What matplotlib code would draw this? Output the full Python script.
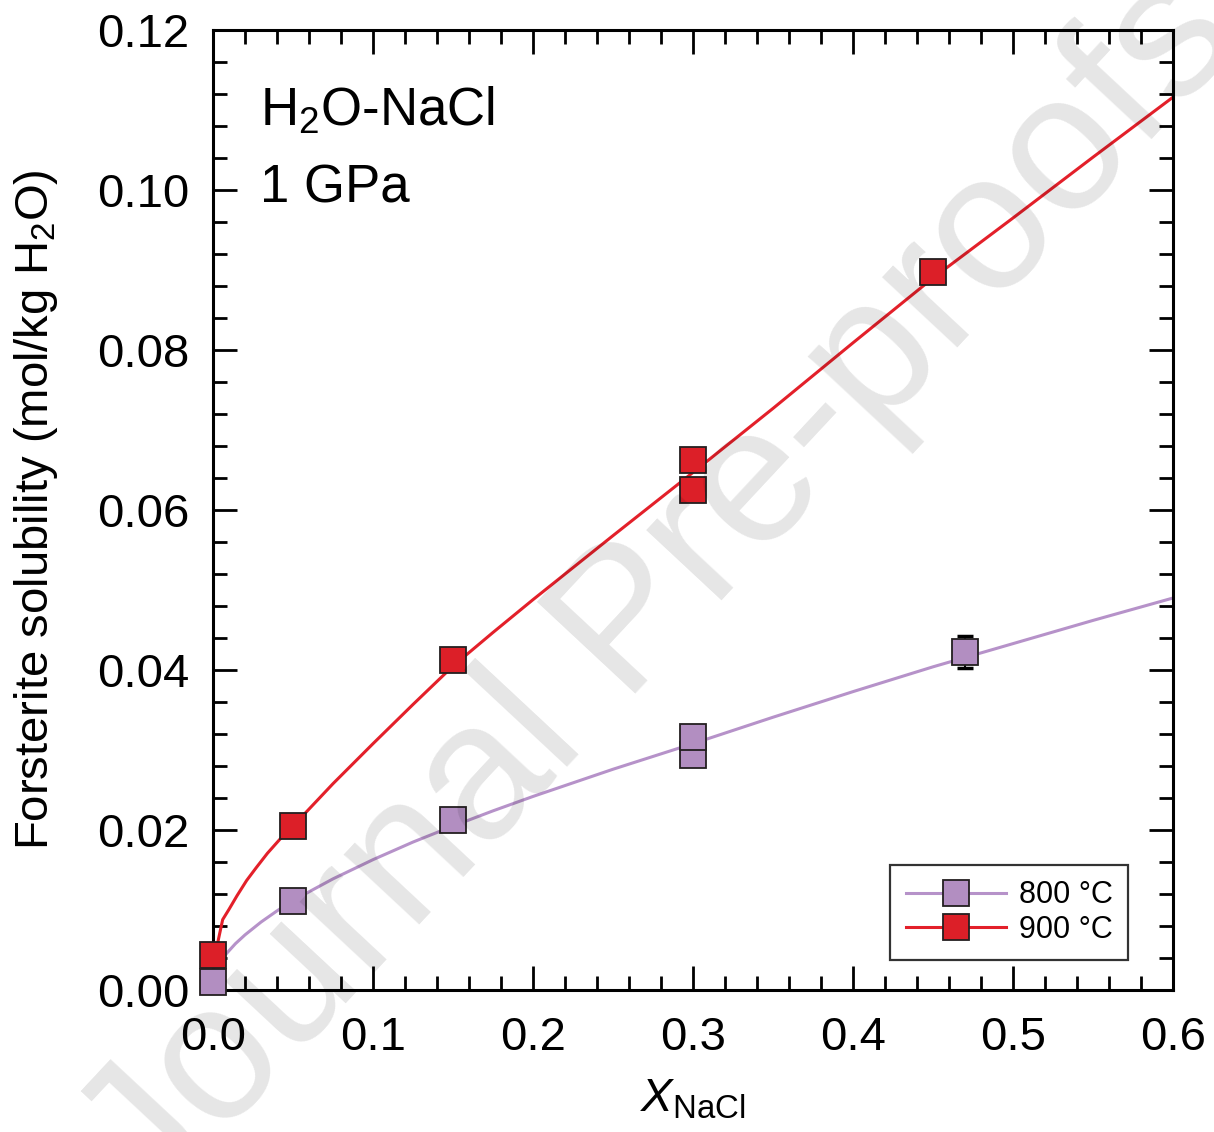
import matplotlib
matplotlib.use("Agg")
import matplotlib.pyplot as plt
from matplotlib.ticker import MultipleLocator, FormatStrFormatter

# =========================
# DATOS
# =========================
# mediciones 800 C
x800 = [0.0, 0.05, 0.15, 0.3, 0.3, 0.47]
y800 = [0.0010, 0.0111, 0.0212, 0.0294, 0.0316, 0.04225]
err_x800 = [0.47]
err_y800 = [0.04225]
err800 = [0.002]

# mediciones 900 C
x900 = [0.0, 0.05, 0.15, 0.3, 0.3, 0.45]
y900 = [0.0044, 0.0205, 0.0413, 0.0663, 0.0625, 0.0898]

# curvas de ajuste
fit800_x = [0.0, 0.003, 0.006, 0.009, 0.014, 0.02, 0.03, 0.04, 0.05, 0.075, 0.1, 0.125,
            0.15, 0.175, 0.2, 0.25, 0.3, 0.35, 0.4, 0.45, 0.5, 0.55, 0.6]
fit800_y = [0.0012, 0.0030, 0.0040, 0.0047, 0.0058, 0.0069, 0.0085, 0.0099, 0.0112, 0.0139,
            0.0163, 0.0185, 0.0205, 0.0224, 0.0242, 0.0276, 0.0308, 0.0341, 0.0373, 0.0404,
            0.0433, 0.0462, 0.0490]
fit900_x = [0.0, 0.003, 0.006, 0.01, 0.015, 0.021, 0.027, 0.034, 0.042, 0.05, 0.075, 0.1,
            0.125, 0.15, 0.175, 0.2, 0.25, 0.3, 0.35, 0.4, 0.45, 0.5, 0.55, 0.6]
fit900_y = [0.0044, 0.0060, 0.0088, 0.0101, 0.0118, 0.0137, 0.0153, 0.0171, 0.0189, 0.0205,
            0.0258, 0.0308, 0.0357, 0.0405, 0.0447, 0.0488, 0.0568, 0.0647, 0.0727, 0.0809,
            0.0890, 0.0965, 0.1041, 0.1116]

labels = ["800 °C", "900 °C"]

# =========================
# ESTILO
# =========================
plt.rcParams["font.family"] = ["Liberation Sans", "DejaVu Sans"]
plt.rcParams["mathtext.fontset"] = "custom"
plt.rcParams["mathtext.rm"] = "Liberation Sans"
plt.rcParams["mathtext.it"] = "Liberation Sans:italic"

c800_line = "#b692c9"
c800_face = "#b28ec1"
c900_line = "#e3202a"
c900_face = "#dc1f28"
edge = "#231f20"

fig = plt.figure(figsize=(12.14, 11.32), dpi=100)
ax = fig.add_axes([0.1755, 0.1254, 0.7907, 0.8481])

# lineas de ajuste
ax.plot(fit800_x, fit800_y, color=c800_line, lw=2.2, zorder=2)
ax.plot(fit900_x, fit900_y, color=c900_line, lw=2.2, zorder=2)

# barra de error
ax.errorbar(err_x800, err_y800, yerr=err800, fmt="none", ecolor="black",
            elinewidth=1.5, capsize=6, capthick=2.5, zorder=3)

# puntos (el orden importa para los solapados en x=0.3)
ms = 18.5
order800 = [0, 1, 2, 3, 5, 4]
for i in order800:
    ax.plot(x800[i], y800[i], "s", ms=ms, mfc=c800_face, mec=edge, mew=1.3,
            zorder=4, clip_on=False)
for i in range(len(x900)):
    ax.plot(x900[i], y900[i], "s", ms=ms, mfc=c900_face, mec=edge, mew=1.3,
            zorder=4, clip_on=False)

# leyenda
h1, = ax.plot([], [], "-s", color=c800_line, lw=2.2, ms=ms, mfc=c800_face, mec=edge, mew=1.3)
h2, = ax.plot([], [], "-s", color=c900_line, lw=2.2, ms=ms, mfc=c900_face, mec=edge, mew=1.3)
leg = ax.legend([h1, h2], labels, loc="lower right", bbox_to_anchor=(0.953, 0.031),
                fontsize=22, frameon=True, fancybox=False, borderaxespad=0,
                handlelength=3.3, handletextpad=0.4, labelspacing=0.15,
                borderpad=0.5)
leg.get_frame().set_edgecolor("black")
leg.get_frame().set_linewidth(1.6)
leg.set_zorder(5)

# ejes
ax.set_xlim(0, 0.6)
ax.set_ylim(0, 0.12)
ax.xaxis.set_major_locator(MultipleLocator(0.1))
ax.xaxis.set_minor_locator(MultipleLocator(0.02))
ax.yaxis.set_major_locator(MultipleLocator(0.02))
ax.yaxis.set_minor_locator(MultipleLocator(0.004))
ax.xaxis.set_major_formatter(FormatStrFormatter("%.1f"))
ax.yaxis.set_major_formatter(FormatStrFormatter("%.2f"))
ax.tick_params(which="both", direction="in", top=True, right=True, labelsize=34)
ax.tick_params(which="major", length=17, width=2)
ax.tick_params(which="minor", length=10, width=2)
ax.tick_params(axis="x", pad=19)
ax.tick_params(axis="y", pad=17)
for spine in ax.spines.values():
    spine.set_linewidth(2.2)
    spine.set_color("black")

ax.set_xlabel(r"$X_{\mathrm{NaCl}}$", fontsize=34, labelpad=12)
ax.set_ylabel(r"Forsterite solubility (mol/kg H$_2$O)", fontsize=34, labelpad=27)

ax.text(0.049, 0.90, r"H$_2$O-NaCl", transform=ax.transAxes, fontsize=38)
ax.text(0.049, 0.82, "1 GPa", transform=ax.transAxes, fontsize=38)

# marca de agua
fig.text(0.545, 0.478, "Journal Pre-proofs", fontsize=140, color="black", alpha=0.1,
         rotation=47, ha="center", va="center", rotation_mode="anchor", zorder=10)

fig.savefig("out.png", dpi=100)
